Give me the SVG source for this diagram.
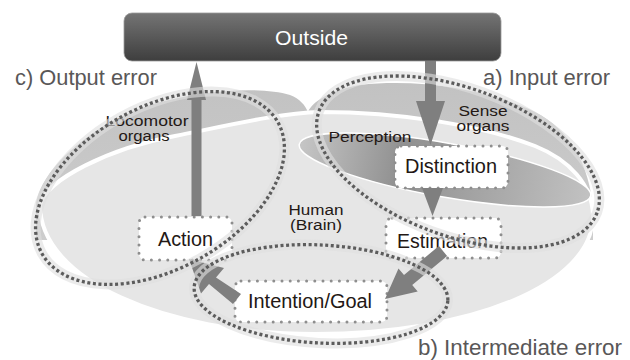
<svg xmlns="http://www.w3.org/2000/svg" width="630" height="360" viewBox="0 0 630 360">
<defs>
<linearGradient id="gOut" x1="0" y1="0" x2="0" y2="1">
<stop offset="0" stop-color="#747474"/><stop offset="1" stop-color="#3e3e3e"/>
</linearGradient>
<linearGradient id="gBand" x1="0" y1="0" x2="0" y2="1">
<stop offset="0" stop-color="#c2c2c2"/><stop offset="1" stop-color="#cdcdcd"/>
</linearGradient>
<linearGradient id="gPerc" x1="0" y1="0" x2="1" y2="0">
<stop offset="0" stop-color="#c6c6c6"/><stop offset="0.35" stop-color="#909090"/><stop offset="0.7" stop-color="#aaaaaa"/><stop offset="1" stop-color="#c2c2c2"/>
</linearGradient>
<style>
.lbl{font-family:"Liberation Sans",Arial,sans-serif;font-size:21.5px;fill:#595757}
.sm{font-family:"Liberation Sans",Arial,sans-serif;font-size:14px;fill:#231815;text-anchor:middle}
.bt{font-family:"Liberation Sans",Arial,sans-serif;font-size:19.5px;fill:#231815;text-anchor:middle}
.box{fill:#ffffff;stroke:#8e8e8e;stroke-width:3;stroke-dasharray:0 8.2;stroke-linecap:round}
.arr{fill:#7f7f7f}
.halo{fill:none;stroke:#dedede;stroke-opacity:0.62;stroke-width:10}
.dots{fill:none;stroke:#5c5c5c;stroke-width:3.3;stroke-dasharray:3 2.6}
</style>
</defs>
<rect width="630" height="360" fill="#ffffff"/>

<g id="background">
<path d="M36,205 C40,170 90,125 150,105 C200,90 260,86 290,95 C300,99 305,105 308,112 C312,102 330,90 360,85 C420,78 490,90 535,112 C570,130 590,165 593,210 L593,240 L36,240 Z" fill="url(#gBand)"/>
<path d="M40,205 C45,180 110,148 175,136 C230,125 280,113 320,112 C400,112 480,125 535,146 C570,160 592,185 593,215 C594,285 470,334 315,334 C165,334 40,280 40,205 Z" fill="#e6e6e6" stroke="#ffffff" stroke-width="4"/>
<ellipse cx="445" cy="170" rx="148" ry="27" transform="rotate(10 445 170)" fill="url(#gPerc)" stroke="#ffffff" stroke-width="1.5"/>
<text class="sm" x="147" y="126" textLength="83" lengthAdjust="spacingAndGlyphs">Locomotor</text>
<text class="sm" x="144" y="141" textLength="51" lengthAdjust="spacingAndGlyphs">organs</text>
<text class="sm" x="483" y="116" textLength="49" lengthAdjust="spacingAndGlyphs">Sense</text>
<text class="sm" x="483" y="131" textLength="53" lengthAdjust="spacingAndGlyphs">organs</text>
<text class="sm" x="370" y="142" textLength="83" lengthAdjust="spacingAndGlyphs">Perception</text>
<text class="sm" x="316" y="215" textLength="55" lengthAdjust="spacingAndGlyphs">Human</text>
<text class="sm" x="316" y="230" textLength="52" lengthAdjust="spacingAndGlyphs">(Brain)</text>
</g>

<g id="node-outside">
<rect x="124" y="13" width="377" height="48" rx="8" fill="url(#gOut)" stroke="#9a9a9a" stroke-width="0.8"/>
<text x="311.5" y="45" font-family="Liberation Sans, Arial, sans-serif" font-size="20" fill="#ffffff" text-anchor="middle" textLength="73" lengthAdjust="spacingAndGlyphs">Outside</text>
</g>
<g id="node-action">
<rect class="box" x="139" y="217" width="93" height="43" rx="6"/>
<text class="bt" x="185.5" y="246" textLength="55" lengthAdjust="spacingAndGlyphs">Action</text>
</g>
<g id="node-distinction">
<rect class="box" x="395" y="146" width="113" height="42" rx="6"/>
<text class="bt" x="451" y="173" textLength="92" lengthAdjust="spacingAndGlyphs">Distinction</text>
</g>
<g id="node-estimation">
<rect class="box" x="386" y="218" width="115" height="40" rx="6"/>
<text class="bt" x="442.5" y="248" textLength="91" lengthAdjust="spacingAndGlyphs">Estimation</text>
</g>
<g id="node-intention">
<rect class="box" x="235" y="281" width="152" height="41" rx="6"/>
<text class="bt" x="310" y="308" textLength="124" lengthAdjust="spacingAndGlyphs">Intention/Goal</text>
</g>

<g id="connectors">
<polygon class="arr" points="191.5,216 191.5,100 187,100 196.5,62 206,100 201.5,100 201.5,216"/>
<polygon class="arr" points="425,61 425,101 416,101 430.5,145 445,101 436,101 436,61"/>
<polygon class="arr" points="422,188 443,188 432.5,216"/>
<polygon class="arr" points="447.1,256 412.2,284.9 417.7,291.5 385,299 398.5,268.4 404,274.9 438.9,246"/>
<polygon class="arr" points="233,304 209,284 201,293.5 189,259 224,268 216,277.5 241,294"/>
</g>

<g id="region-output-error">
<ellipse class="halo" cx="160" cy="188" rx="135" ry="81" transform="rotate(-29 160 188)"/>
<ellipse class="dots" cx="160" cy="188" rx="135" ry="81" transform="rotate(-29 160 188)"/>
<text class="lbl" x="15" y="85" textLength="142" lengthAdjust="spacingAndGlyphs">c) Output error</text>
</g>
<g id="region-input-error">
<ellipse class="halo" cx="458" cy="162" rx="148" ry="74" transform="rotate(20 458 162)"/>
<ellipse class="dots" cx="458" cy="162" rx="148" ry="74" transform="rotate(20 458 162)"/>
<text class="lbl" x="483" y="85" textLength="127" lengthAdjust="spacingAndGlyphs">a) Input error</text>
</g>
<g id="region-intermediate-error">
<ellipse class="halo" cx="321" cy="294" rx="127" ry="49" transform="rotate(3 321 294)"/>
<ellipse class="dots" cx="321" cy="294" rx="127" ry="49" transform="rotate(3 321 294)"/>
<text class="lbl" x="418" y="355" textLength="204" lengthAdjust="spacingAndGlyphs">b) Intermediate error</text>
</g>
</svg>
